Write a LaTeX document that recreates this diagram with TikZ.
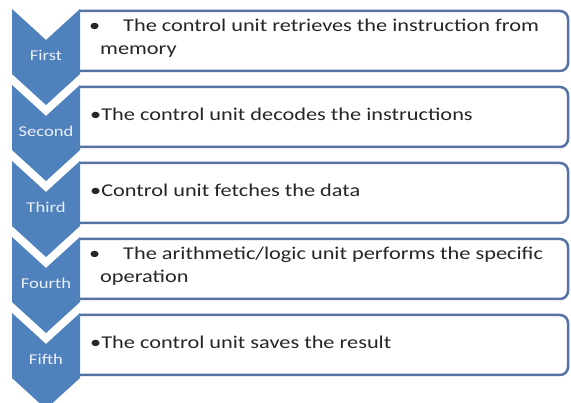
\documentclass[tikz,border=0pt]{standalone}
\usepackage{fontspec}
\setmainfont{Carlito}[FakeStretch=1.24]
\usetikzlibrary{math}

\definecolor{chevblue}{RGB}{79,129,189}
\definecolor{boxblue}{RGB}{84,114,163}
\definecolor{labelwhite}{RGB}{235,240,247}

\tikzset{
    chevron/.style={fill=chevblue, draw=none},
    textbox/.style={draw=boxblue, line width=2.5pt, fill=white, rounded corners=8pt},
    steplabel/.style={text=labelwhite, inner sep=0pt, font=\fontsize{15}{18}\selectfont},
    steptext/.style={anchor=base west, align=left, inner sep=0pt, text=black!85,
        font=\fontsize{18}{23}\selectfont},
}

\begin{document}
\begin{tikzpicture}[x=1pt, y=-1pt]

% Position settings
\tikzmath{
    \RowGap = 76;
    \ChevLeft = 12;
    \ChevRight = 80;
    \ChevMid = 46;
    \Notch = 31;
    \Side = 65;
    \BoxRight = 568;
    \RowA = 9;
    \RowB = \RowA + \RowGap;
    \RowC = \RowB + \RowGap;
    \RowD = \RowC + \RowGap;
    \RowE = \RowD + \RowGap;
}

% Page
\fill [white] (0,0) rectangle (571,403);
\useasboundingbox (0,0) rectangle (571,403);

% Draws text boxes
\draw [textbox] (\ChevRight,\RowA+2) -- (\BoxRight,\RowA+2) -- (\BoxRight,\RowA+62) -- (\ChevRight,\RowA+62);
\draw [textbox] (\ChevRight,\RowB+2) -- (\BoxRight,\RowB+2) -- (\BoxRight,\RowB+62) -- (\ChevRight,\RowB+62);
\draw [textbox] (\ChevRight,\RowC+2) -- (\BoxRight,\RowC+2) -- (\BoxRight,\RowC+62) -- (\ChevRight,\RowC+62);
\draw [textbox] (\ChevRight,\RowD+2) -- (\BoxRight,\RowD+2) -- (\BoxRight,\RowD+62) -- (\ChevRight,\RowD+62);
\draw [textbox] (\ChevRight,\RowE+2) -- (\BoxRight,\RowE+2) -- (\BoxRight,\RowE+62) -- (\ChevRight,\RowE+62);

% Draws chevrons
\fill [chevron] (\ChevLeft,\RowA) -- (\ChevMid,\RowA+\Notch) -- (\ChevRight,\RowA) -- (\ChevRight,\RowA+\Side)
    -- (\ChevMid,\RowA+\Side+\Notch) -- (\ChevLeft,\RowA+\Side) -- cycle;
\fill [chevron] (\ChevLeft,\RowB) -- (\ChevMid,\RowB+\Notch) -- (\ChevRight,\RowB) -- (\ChevRight,\RowB+\Side)
    -- (\ChevMid,\RowB+\Side+\Notch) -- (\ChevLeft,\RowB+\Side) -- cycle;
\fill [chevron] (\ChevLeft,\RowC) -- (\ChevMid,\RowC+\Notch) -- (\ChevRight,\RowC) -- (\ChevRight,\RowC+\Side)
    -- (\ChevMid,\RowC+\Side+\Notch) -- (\ChevLeft,\RowC+\Side) -- cycle;
\fill [chevron] (\ChevLeft,\RowD) -- (\ChevMid,\RowD+\Notch) -- (\ChevRight,\RowD) -- (\ChevRight,\RowD+\Side)
    -- (\ChevMid,\RowD+\Side+\Notch) -- (\ChevLeft,\RowD+\Side) -- cycle;
\fill [chevron] (\ChevLeft,\RowE) -- (\ChevMid,\RowE+\Notch) -- (\ChevRight,\RowE) -- (\ChevRight,\RowE+\Side)
    -- (\ChevMid,\RowE+\Side+\Notch) -- (\ChevLeft,\RowE+\Side) -- cycle;

% Step names
\node [steplabel] (first) at (\ChevMid,\RowA+46) {First};
\node [steplabel] (second) at (\ChevMid,\RowB+46) {Second};
\node [steplabel] (third) at (\ChevMid,\RowC+46) {Third};
\node [steplabel] (fourth) at (\ChevMid,\RowD+46) {Fourth};
\node [steplabel] (fifth) at (\ChevMid,\RowE+46) {Fifth};

% Write out steps (base of a two-line text is its last line)
\node [steptext] (fetchtext) at (100,\RowA+46)
    {\llap{\textbullet}\hspace*{23pt}The control unit retrieves the instruction from\\memory};
\node [steptext] (decodetext) at (90,\RowB+36)
    {\textbullet The control unit decodes the instructions};
\node [steptext] (datatext) at (90,\RowC+36)
    {\textbullet Control unit fetches the data};
\node [steptext] (executetext) at (100,\RowD+46)
    {\llap{\textbullet}\hspace*{23pt}The arithmetic/logic unit performs the specific\\operation};
\node [steptext] (storetext) at (90,\RowE+36)
    {\textbullet The control unit saves the result};

\end{tikzpicture}
\end{document}
